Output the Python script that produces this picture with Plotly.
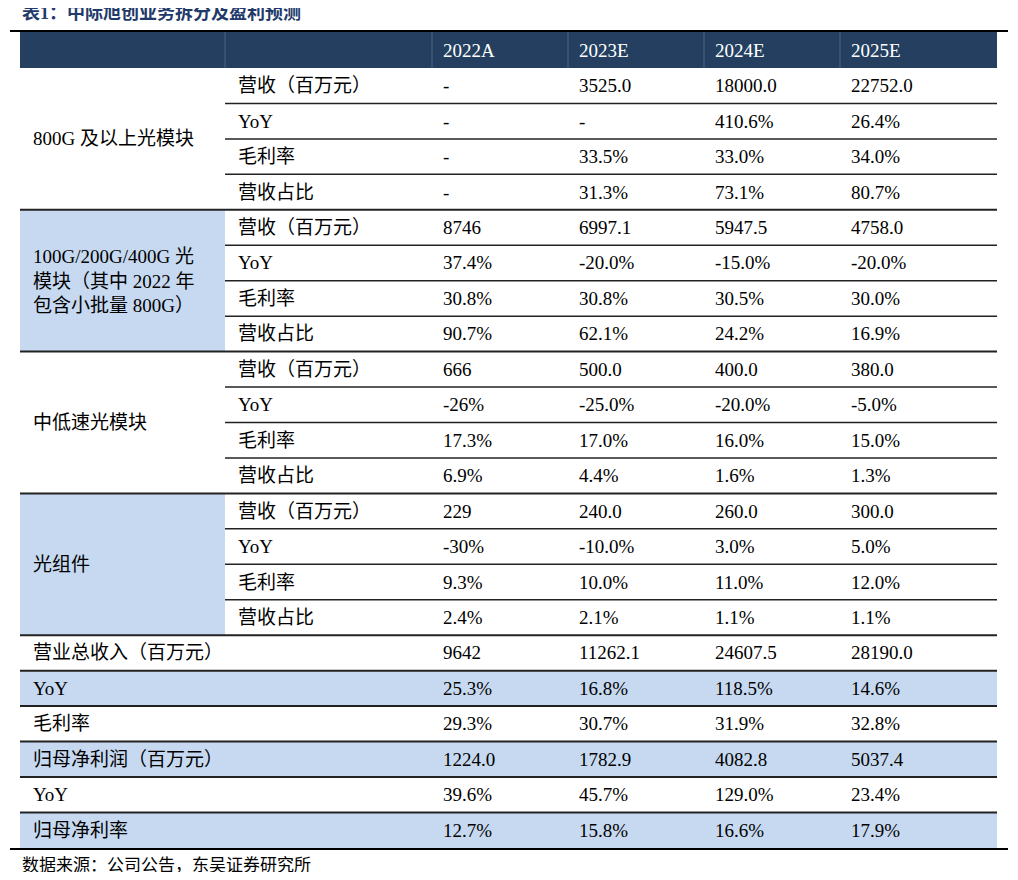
import plotly.graph_objects as go

years = ["2022A", "2023E", "2024E", "2025E"]
groups = ["800G 及以上光模块", "100G/200G/400G 光<br>模块（其中 2022 年<br>包含小批量 800G）", "中低速光模块", "光组件"]
sub_labels = ["营收（百万元）", "YoY", "毛利率", "营收占比"]
g1 = [["-", "3525.0", "18000.0", "22752.0"], ["-", "-", "410.6%", "26.4%"], ["-", "33.5%", "33.0%", "34.0%"], ["-", "31.3%", "73.1%", "80.7%"]]
g2 = [["8746", "6997.1", "5947.5", "4758.0"], ["37.4%", "-20.0%", "-15.0%", "-20.0%"], ["30.8%", "30.8%", "30.5%", "30.0%"], ["90.7%", "62.1%", "24.2%", "16.9%"]]
g3 = [["666", "500.0", "400.0", "380.0"], ["-26%", "-25.0%", "-20.0%", "-5.0%"], ["17.3%", "17.0%", "16.0%", "15.0%"], ["6.9%", "4.4%", "1.6%", "1.3%"]]
g4 = [["229", "240.0", "260.0", "300.0"], ["-30%", "-10.0%", "3.0%", "5.0%"], ["9.3%", "10.0%", "11.0%", "12.0%"], ["2.4%", "2.1%", "1.1%", "1.1%"]]
group_vals = [g1, g2, g3, g4]
total_labels = ["营业总收入（百万元）", "YoY", "毛利率", "归母净利润（百万元）", "YoY", "归母净利率"]
total_vals = [["9642", "11262.1", "24607.5", "28190.0"], ["25.3%", "16.8%", "118.5%", "14.6%"],
              ["29.3%", "30.7%", "31.9%", "32.8%"], ["1224.0", "1782.9", "4082.8", "5037.4"],
              ["39.6%", "45.7%", "129.0%", "23.4%"], ["12.7%", "15.8%", "16.6%", "17.9%"]]
total_blue = [False, True, False, True, False, True]
group_blue = [False, True, False, True]

W, H = 1002, 864
OFF = 8
X0, X1, XE = 20, 225, 997
XC = [432, 568, 704, 840]
Y0, RH = 68, 35.45
HDR = "#243f60"; BLUE = "#c6d9f0"
FONT = "Liberation Serif, Noto Sans CJK SC, serif"
shapes, ann = [], []

def rect(x0, y0, x1, y1, c):
    shapes.append(dict(type="rect", x0=x0, x1=x1, y0=y0, y1=y1, fillcolor=c, line=dict(width=0), layer="below"))
def hline(x0, x1, y, w=1.5, c="#222"):
    shapes.append(dict(type="line", x0=x0, x1=x1, y0=y, y1=y, line=dict(color=c, width=w)))
def txt(x, y, s, color="black", size=19, align="left"):
    ann.append(dict(x=x, y=y, text=s, showarrow=False, xanchor="left", yanchor="middle", align=align,
                    font=dict(family=FONT, size=size, color=color)))

rect(X0, 32, XE, Y0, HDR)
for x in [X1] + XC:
    shapes.append(dict(type="line", x0=x, x1=x, y0=32, y1=Y0, line=dict(color="#4a6585", width=1)))
for i, y in enumerate(years):
    txt(XC[i] + 9, 50, y, "white")
hline(10, 1008, 31, 2, "black")

r = 0
for gi, g in enumerate(groups):
    top = Y0 + r * RH
    if group_blue[gi]:
        rect(X0, top, X1, top + 4 * RH, BLUE)
    txt(X0 + 11, top + 2 * RH, g, align="left")
    for si in range(4):
        yc = top + (si + 0.5) * RH
        txt(X1 + 11, yc, sub_labels[si])
        for ci in range(4):
            txt(XC[ci] + 9, yc, group_vals[gi][si][ci])
        if si < 3:
            hline(X1, XE, top + (si + 1) * RH)
    r += 4
    hline(X0, XE, Y0 + r * RH, 2)
for ti, lab in enumerate(total_labels):
    top = Y0 + r * RH
    if total_blue[ti]:
        rect(X0, top, XE, top + RH, BLUE)
    txt(X0 + 11, top + RH / 2, lab)
    for ci in range(4):
        txt(XC[ci] + 9, top + RH / 2, total_vals[ti][ci])
    r += 1
    if ti < len(total_labels) - 1:
        hline(X0, XE, Y0 + r * RH, 2)
hline(10, 1008, Y0 + r * RH + 1, 2, "black")

ann.append(dict(x=20, y=13, text="<b>表1：中际旭创业务拆分及盈利预测</b>", showarrow=False, xanchor="left", yanchor="middle",
                font=dict(family=FONT, size=18, color="#1f3a6a")))
txt(20, 865, "数据来源：公司公告，东吴证券研究所", size=17)

fig = go.Figure()
fig.update_layout(width=W, height=H, margin=dict(l=0, r=0, t=0, b=0), plot_bgcolor="white", paper_bgcolor="white",
                  xaxis=dict(range=[OFF, W + OFF], visible=False), yaxis=dict(range=[H + OFF, OFF], visible=False),
                  shapes=shapes, annotations=ann, showlegend=False)
fig.write_html("out.html")
